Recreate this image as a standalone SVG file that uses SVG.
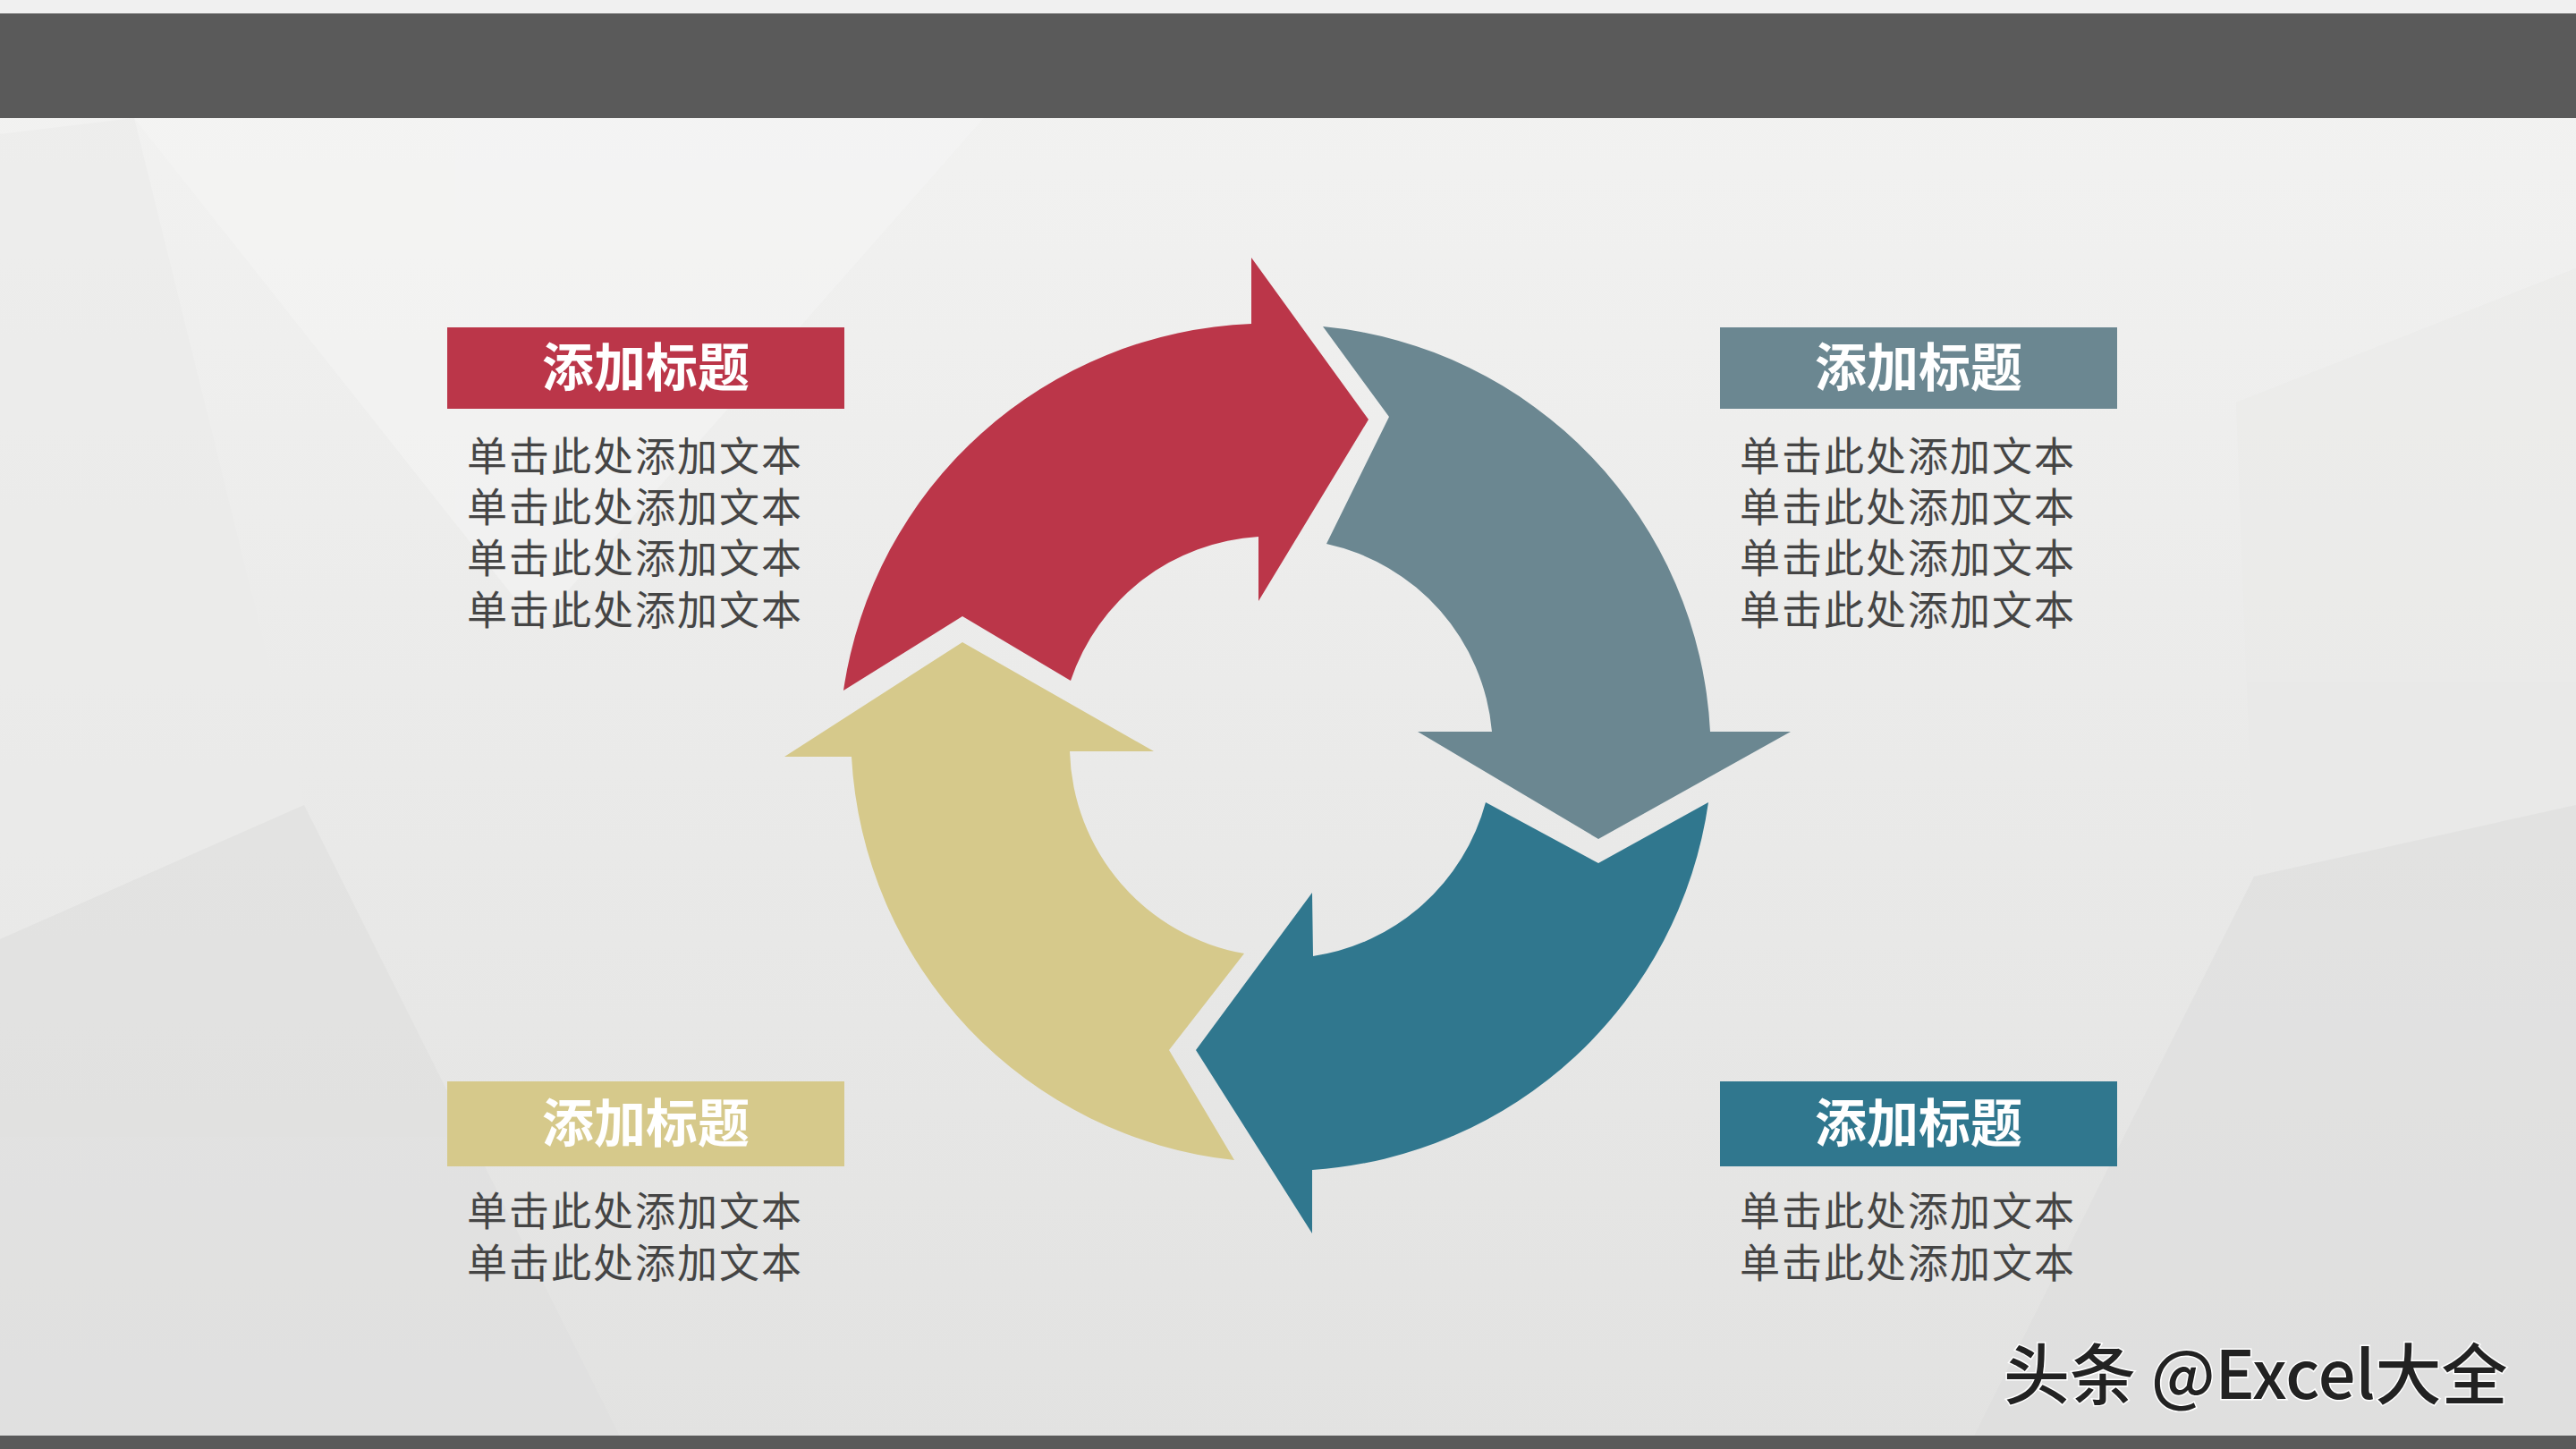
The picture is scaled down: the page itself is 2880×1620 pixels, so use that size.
<svg xmlns="http://www.w3.org/2000/svg" width="2880" height="1620" viewBox="0 0 2880 1620">
<defs>
<linearGradient id="bg" x1="0" y1="0" x2="0" y2="1"><stop offset="0" stop-color="#f3f3f2"/><stop offset="1" stop-color="#e2e2e1"/></linearGradient>
<style>
.t{font-family:"Noto Sans CJK SC","Liberation Sans",sans-serif;font-weight:bold;font-size:58px;fill:#fff;text-anchor:middle}
.b{font-family:"Noto Sans CJK SC","Liberation Sans",sans-serif;font-size:45px;letter-spacing:2px;fill:#454545}
.p{stroke:none}
</style>
</defs>
<rect width="2880" height="1620" fill="url(#bg)"/>
<g opacity="0.5">
<polygon points="0,150 150,132 340,900 0,1050" fill="#ebebea"/>
<polygon points="0,1050 340,900 700,1620 0,1620" fill="#dededd"/>
<polygon points="2500,450 2880,300 2880,900 2520,980" fill="#e9e9e8"/>
<polygon points="2520,980 2880,900 2880,1620 2200,1620" fill="#dcdcdb"/>
<polygon points="150,132 1100,132 600,700" fill="#f6f6f5"/>
</g>
<rect x="0" y="0" width="2880" height="15" fill="#f0f0f0"/>
<rect x="0" y="15" width="2880" height="117" fill="#5a5a5a"/>
<rect x="0" y="1605" width="2880" height="15" fill="#5a5a5a"/>
<g id="connectors"></g>
<g id="arrow-red"><path class="p" fill="#bb3649" d="M943,772 A480,480 0 0 1 1399,362 L1399,288 L1530,469 L1407,672 L1407,600 A236,236 0 0 0 1197,761 L1076,689 Z"/></g>
<g id="arrow-gray"><path class="p" fill="#6b8791" d="M1479,365 A480,480 0 0 1 1912,818 L2002,818 L1787,938 L1585,818 L1668,818 A236,236 0 0 0 1483,608 L1553,466 Z"/></g>
<g id="arrow-teal"><path class="p" fill="#30778e" d="M1910,897 A480,480 0 0 1 1467,1308 L1467,1379 L1337,1174 L1467,998 L1468,1069 A236,236 0 0 0 1661,897 L1787,965 Z"/></g>
<g id="arrow-yellow"><path class="p" fill="#d6c98b" d="M1380,1297 A480,480 0 0 1 952,846 L877,846 L1076,718 L1290,840 L1196,840 A236,236 0 0 0 1391,1066 L1307,1174 Z"/></g>
<g id="node-tl"><rect x="500" y="366" width="444" height="91" fill="#bb3649"/><text class="t" x="722" y="432">添加标题</text>
<text class="b" x="522" y="527">单击此处添加文本</text><text class="b" x="522" y="584">单击此处添加文本</text><text class="b" x="522" y="641">单击此处添加文本</text><text class="b" x="522" y="699">单击此处添加文本</text></g>
<g id="node-tr"><rect x="1923" y="366" width="444" height="91" fill="#6b8791"/><text class="t" x="2145" y="432">添加标题</text>
<text class="b" x="1945" y="527">单击此处添加文本</text><text class="b" x="1945" y="584">单击此处添加文本</text><text class="b" x="1945" y="641">单击此处添加文本</text><text class="b" x="1945" y="699">单击此处添加文本</text></g>
<g id="node-bl"><rect x="500" y="1209" width="444" height="95" fill="#d6c98b"/><text class="t" x="722" y="1277">添加标题</text>
<text class="b" x="522" y="1371">单击此处添加文本</text><text class="b" x="522" y="1429">单击此处添加文本</text></g>
<g id="node-br"><rect x="1923" y="1209" width="444" height="95" fill="#30778e"/><text class="t" x="2145" y="1277">添加标题</text>
<text class="b" x="1945" y="1371">单击此处添加文本</text><text class="b" x="1945" y="1429">单击此处添加文本</text></g>
<text x="2240" y="1564" font-family="Noto Sans CJK SC,Liberation Sans,sans-serif" font-size="74" font-weight="500" fill="#222" stroke="#fff" stroke-width="3" paint-order="stroke">头条 @Excel大全</text>
</svg>
